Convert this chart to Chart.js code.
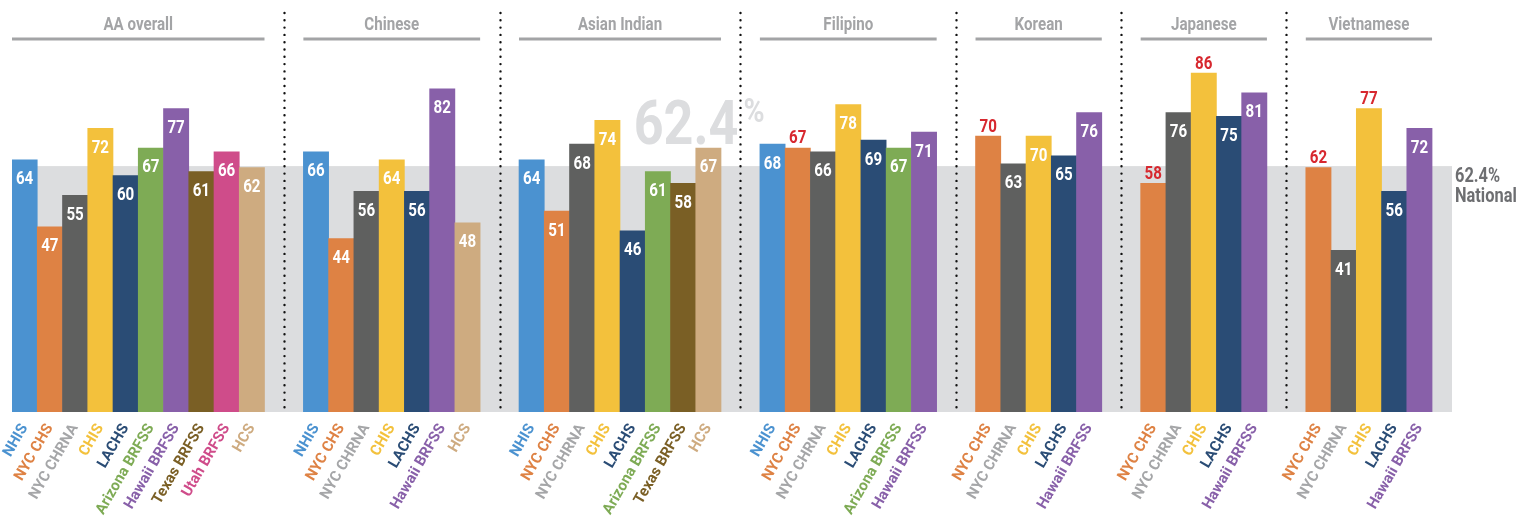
<!DOCTYPE html>
<html>
<head>
<meta charset="utf-8">
<script src="https://cdn.jsdelivr.net/npm/chart.js@4.4.1/dist/chart.umd.min.js"></script>
<style>
  html, body { margin: 0; padding: 0; background: #fff; }
  #wrap { width: 1518px; height: 516px; }
</style>
</head>
<body>
<div id="wrap"><canvas id="chart" width="1518" height="516"></canvas></div>
<script>
// ---- data ----
const groups = ['AA overall', 'Chinese', 'Asian Indian', 'Filipino', 'Korean', 'Japanese', 'Vietnamese'];

const sourcesAA = ['NHIS', 'NYC CHS', 'NYC CHRNA', 'CHIS', 'LACHS', 'Arizona BRFSS', 'Hawaii BRFSS', 'Texas BRFSS', 'Utah BRFSS', 'HCS'];
const valuesAA = [64, 47, 55, 72, 60, 67, 77, 61, 66, 62];

const sourcesChinese = ['NHIS', 'NYC CHS', 'NYC CHRNA', 'CHIS', 'LACHS', 'Hawaii BRFSS', 'HCS'];
const valuesChinese = [66, 44, 56, 64, 56, 82, 48];

const sourcesIndian = ['NHIS', 'NYC CHS', 'NYC CHRNA', 'CHIS', 'LACHS', 'Arizona BRFSS', 'Texas BRFSS', 'HCS'];
const valuesIndian = [64, 51, 68, 74, 46, 61, 58, 67];

const sourcesFilipino = ['NHIS', 'NYC CHS', 'NYC CHRNA', 'CHIS', 'LACHS', 'Arizona BRFSS', 'Hawaii BRFSS'];
const valuesFilipino = [68, 67, 66, 78, 69, 67, 71];

const sourcesKorean = ['NYC CHS', 'NYC CHRNA', 'CHIS', 'LACHS', 'Hawaii BRFSS'];
const valuesKorean = [70, 63, 70, 65, 76];

const sourcesJapanese = ['NYC CHS', 'NYC CHRNA', 'CHIS', 'LACHS', 'Hawaii BRFSS'];
const valuesJapanese = [58, 76, 86, 75, 81];

const sourcesVietnamese = ['NYC CHS', 'NYC CHRNA', 'CHIS', 'LACHS', 'Hawaii BRFSS'];
const valuesVietnamese = [62, 41, 77, 56, 72];

// values printed in red above the bar
const flaggedFilipino = ['NYC CHS'];
const flaggedKorean = ['NYC CHS'];
const flaggedJapanese = ['NYC CHS', 'CHIS'];
const flaggedVietnamese = ['NYC CHS', 'CHIS'];

const nationalRate = 62.4;

const groupSources = [sourcesAA, sourcesChinese, sourcesIndian, sourcesFilipino, sourcesKorean, sourcesJapanese, sourcesVietnamese];
const groupValues = [valuesAA, valuesChinese, valuesIndian, valuesFilipino, valuesKorean, valuesJapanese, valuesVietnamese];
const groupFlags = [[], [], [], flaggedFilipino, flaggedKorean, flaggedJapanese, flaggedVietnamese];

// ---- styles ----
const FONT = 'Roboto, sans-serif';
const SQUEEZE = 0.84;  // fake a condensed face for the drawn texts
const barColors = {
    'NHIS': '#4b92d0', 'NYC CHS': '#de8244', 'NYC CHRNA': '#5f605f', 'CHIS': '#f3c13c',
    'LACHS': '#2a4c75', 'Arizona BRFSS': '#7eab55', 'Hawaii BRFSS': '#8860a9',
    'Texas BRFSS': '#7a5f25', 'Utah BRFSS': '#cf4c8a', 'HCS': '#ceab80'
};
const labelColors = Object.assign({}, barColors, { 'NYC CHRNA': '#a5a6a8' });
const GAP = 1.54;      // empty space between groups, in bar widths
const RIGHT_EXTRA = 0.79;

// build flat arrays from the groups
const xs = [], names = [], values = [], flags = [], spans = [];
let pos = 0;
groups.forEach((g, gi) => {
    const start = pos;
    groupSources[gi].forEach((s, i) => {
        xs.push(pos);
        names.push(s);
        values.push(groupValues[gi][i]);
        flags.push(groupFlags[gi].includes(s));
        pos += 1;
    });
    spans.push([start - 0.5, pos - 0.5]);
    pos += GAP;
});
const xMax = pos - GAP - 0.5 + RIGHT_EXTRA;

function squeezedText(ctx, text, x, y, size, align) {
    ctx.save();
    ctx.translate(x, y);
    ctx.scale(SQUEEZE, 1);
    ctx.font = `bold ${size}px ${FONT}`;
    ctx.textAlign = align || 'center';
    ctx.textBaseline = 'alphabetic';
    ctx.fillText(String(text), 0, 0);
    ctx.restore();
}

const decor = {
    id: 'decor',
    beforeDatasetsDraw(chart) {
        const { ctx, chartArea: a, scales: { x, y } } = chart;
        ctx.save();
        // national band
        const yn = y.getPixelForValue(nationalRate);
        ctx.fillStyle = '#dcdddf';
        ctx.fillRect(a.left, yn, a.right - a.left, a.bottom - yn);

        // big faded 62.4%
        const sep = (x.getPixelForValue(spans[2][1]) + x.getPixelForValue(spans[3][0])) / 2;
        ctx.fillStyle = '#dcdddf';
        squeezedText(ctx, nationalRate, sep - 2, y.getPixelForValue(68), 62, 'right');
        squeezedText(ctx, '%', sep + 3, y.getPixelForValue(73.7), 34, 'left');

        // dotted separators
        ctx.strokeStyle = '#111';
        ctx.lineWidth = 2.4;
        ctx.lineCap = 'round';
        ctx.setLineDash([0, 7.3]);
        for (let i = 0; i < spans.length - 1; i++) {
            const sx = Math.round((x.getPixelForValue(spans[i][1]) + x.getPixelForValue(spans[i + 1][0])) / 2) + 0.5;
            ctx.beginPath();
            ctx.moveTo(sx, 13);
            ctx.lineTo(sx, a.bottom);
            ctx.stroke();
        }
        ctx.setLineDash([]);

        // group titles
        ctx.lineCap = 'butt';
        spans.forEach((sp, i) => {
            const l = x.getPixelForValue(sp[0]);
            const r = x.getPixelForValue(sp[1]);
            ctx.fillStyle = '#a3a4a6';
            squeezedText(ctx, groups[i], (l + r) / 2, 30, 18);
            ctx.strokeStyle = '#a3a4a6';
            ctx.lineWidth = 3;
            ctx.beginPath();
            ctx.moveTo(l, 39);
            ctx.lineTo(r, 39);
            ctx.stroke();
        });
        ctx.restore();
    },
    afterDatasetsDraw(chart) {
        const { ctx, chartArea: a, scales: { y } } = chart;
        const meta = chart.getDatasetMeta(0);
        ctx.save();
        meta.data.forEach((bar, i) => {
            if (flags[i]) {
                ctx.fillStyle = '#d7282f';
                squeezedText(ctx, values[i], bar.x, bar.y - 4.5, 18);
            } else {
                ctx.fillStyle = '#ffffff';
                squeezedText(ctx, values[i], bar.x, bar.y + 24.5, 18);
            }
        });
        // national label at the right
        const yn = y.getPixelForValue(nationalRate);
        ctx.fillStyle = '#6d6e71';
        squeezedText(ctx, nationalRate + '%', a.right + 3, yn + 16, 19.5, 'left');
        squeezedText(ctx, 'National', a.right + 3, yn + 36, 19.5, 'left');
        ctx.restore();
    }
};

new Chart(document.getElementById('chart'), {
    type: 'bar',
    data: {
        datasets: [{
            data: xs.map((v, i) => ({ x: v, y: values[i] })),
            backgroundColor: names.map(n => barColors[n]),
            borderWidth: 0,
            barPercentage: 1,
            categoryPercentage: 1
        }]
    },
    options: {
        responsive: false,
        animation: false,
        layout: { padding: { left: 12, right: 66, top: 12, bottom: 0 } },
        plugins: { legend: { display: false }, tooltip: { enabled: false } },
        scales: {
            x: {
                type: 'linear',
                offset: false,
                min: -0.5,
                max: xMax,
                grid: { display: false },
                border: { display: false },
                afterBuildTicks: s => { s.ticks = xs.map(v => ({ value: v })); },
                afterFit: s => { s.height = 104; },
                ticks: {
                    autoSkip: false,
                    minRotation: 60,
                    maxRotation: 60,
                    padding: 1,
                    font: { family: FONT, weight: 'bold', size: 15 },
                    color: c => labelColors[names[c.index]],
                    callback: (v, i) => names[i]
                }
            },
            y: { display: false, min: 0, max: 101.5 }
        }
    },
    plugins: [decor]
});
</script>
</body>
</html>
